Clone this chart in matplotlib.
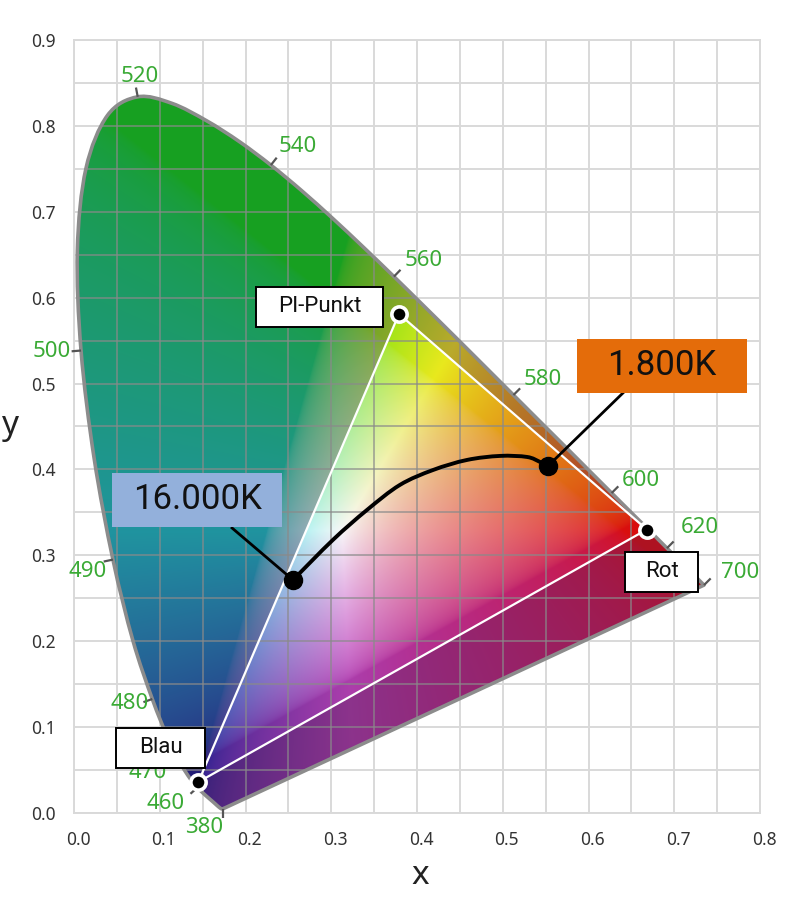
import numpy as np
import matplotlib.pyplot as plt
from matplotlib.patches import PathPatch, Rectangle
from matplotlib.path import Path
from matplotlib.transforms import ScaledTranslation

# CIE 1931 spectral locus (wavelength nm, x, y)
wl = [380, 385, 390, 395, 400, 405, 410, 415, 420, 425, 430, 435, 440, 445,
      450, 455, 460, 465, 470, 475, 480, 485, 490, 495, 500, 505, 510, 515,
      520, 525, 530, 535, 540, 545, 550, 555, 560, 565, 570, 575, 580, 585,
      590, 595, 600, 605, 610, 615, 620, 625, 630, 635, 640, 645, 650, 655,
      660, 665, 670, 680, 690, 700]
loc_x = [0.1741, 0.1740, 0.1738, 0.1736, 0.1733, 0.1730, 0.1726, 0.1721,
         0.1714, 0.1703, 0.1689, 0.1669, 0.1644, 0.1611, 0.1566, 0.1510,
         0.1440, 0.1355, 0.1241, 0.1096, 0.0913, 0.0687, 0.0454, 0.0235,
         0.0082, 0.0039, 0.0139, 0.0389, 0.0743, 0.1142, 0.1547, 0.1929,
         0.2296, 0.2658, 0.3016, 0.3373, 0.3731, 0.4087, 0.4441, 0.4788,
         0.5125, 0.5448, 0.5752, 0.6029, 0.6270, 0.6482, 0.6658, 0.6801,
         0.6915, 0.7006, 0.7079, 0.7140, 0.7190, 0.7230, 0.7260, 0.7283,
         0.7300, 0.7311, 0.7320, 0.7334, 0.7344, 0.7347]
loc_y = [0.0050, 0.0050, 0.0049, 0.0049, 0.0048, 0.0048, 0.0048, 0.0048,
         0.0051, 0.0058, 0.0069, 0.0086, 0.0109, 0.0138, 0.0177, 0.0227,
         0.0297, 0.0399, 0.0578, 0.0868, 0.1327, 0.2007, 0.2950, 0.4127,
         0.5384, 0.6548, 0.7502, 0.8120, 0.8338, 0.8262, 0.8059, 0.7816,
         0.7543, 0.7243, 0.6923, 0.6589, 0.6245, 0.5896, 0.5547, 0.5202,
         0.4866, 0.4544, 0.4242, 0.3965, 0.3725, 0.3514, 0.3340, 0.3197,
         0.3083, 0.2993, 0.2920, 0.2859, 0.2809, 0.2770, 0.2740, 0.2717,
         0.2700, 0.2689, 0.2680, 0.2666, 0.2656, 0.2653]

marked_wl = [380, 460, 470, 480, 490, 500, 520, 540, 560, 580, 600, 620, 700]

# gamut triangle corners
prim_names = ['Blau', 'PI-Punkt', 'Rot']
prim_x = [0.145, 0.379, 0.668]
prim_y = [0.036, 0.581, 0.330]

# black body curve as drawn in the chart
planck_x = [0.2554, 0.302, 0.3417, 0.380, 0.4187, 0.4583, 0.4968, 0.5283, 0.5434, 0.5528]
planck_y = [0.2713, 0.318, 0.3528, 0.3819, 0.3993, 0.4110, 0.4157, 0.4145, 0.4087, 0.4040]
cct_labels = ['16.000K', '1.800K']

ticks_x = [0.0, 0.1, 0.2, 0.3, 0.4, 0.5, 0.6, 0.7, 0.8]
ticks_y = [0.0, 0.1, 0.2, 0.3, 0.4, 0.5, 0.6, 0.7, 0.8, 0.9]

GREEN = '#3aaa35'
FONT = ['Noto Sans', 'DejaVu Sans']
THIN = ['Roboto', 'DejaVu Sans']


def smooth_path(xs, ys, close=False):
    # catmull-rom through the points, drawn as bezier pieces
    p = np.column_stack([xs, ys])
    n = len(p)
    verts = [p[0]]
    codes = [Path.MOVETO]
    for i in range(n - 1):
        a = p[max(i - 1, 0)]
        b = p[min(i + 2, n - 1)]
        c1 = p[i] + (p[i + 1] - a) / 6
        c2 = p[i + 1] - (b - p[i]) / 6
        verts += [c1, c2, p[i + 1]]
        codes += [Path.CURVE4] * 3
    if close:
        verts.append(p[0])
        codes.append(Path.CLOSEPOLY)
    return Path(np.array(verts), codes)


fig = plt.figure(figsize=(8, 8.98), dpi=100)
ax = fig.add_axes([0.0925, 0.0947, 0.8575, 0.8608])
ax.set_xlim(0, 0.8)
ax.set_ylim(0, 0.9)

# background grid
ax.set_xticks(ticks_x)
ax.set_yticks(ticks_y)
ax.set_xticks(np.arange(0.05, 0.8, 0.1), minor=True)
ax.set_yticks(np.arange(0.05, 0.9, 0.1), minor=True)
ax.grid(which='both', color='#d9d9d9', lw=1.4, zorder=0)
ax.set_axisbelow(True)
ax.tick_params(which='both', length=0, pad=13, labelsize=12.5, labelcolor='#333333')
ax.set_xticklabels([f'{v:.1f}' for v in ticks_x], family=FONT)
ax.set_yticklabels([f'{v:.1f}' for v in ticks_y], family=FONT)
for lab in ax.get_xticklabels():
    lab.set_transform(lab.get_transform() + ScaledTranslation(0.04, 0, fig.dpi_scale_trans))
for sp in ax.spines.values():
    sp.set_color('#d9d9d9')
    sp.set_linewidth(1.4)

# colour fill of the horseshoe
gx = np.linspace(0, 0.8, 640)
gy = np.linspace(0, 0.9, 720)
GX, GY = np.meshgrid(gx, gy)
yy = np.maximum(GY, 1e-3)
XYZ = np.stack([GX / yy, np.ones_like(GX), (1 - GX - GY) / yy], axis=-1)
M = np.array([[3.2406, -1.5372, -0.4986],
              [-0.9689, 1.8758, 0.0415],
              [0.0557, -0.2040, 1.0570]])
rgb = np.clip(XYZ @ M.T, 0, None)
rgb /= np.maximum(rgb.max(axis=-1, keepdims=True), 1e-6)
rgb = np.where(rgb <= 0.0031308, 12.92 * rgb, 1.055 * rgb ** (1 / 2.4) - 0.055)
# bluish / violet tones are shown more muted and darker
bl = np.clip(rgb[..., 2:3] - rgb[..., 1:2], 0, 1)
sat = 0.82 - 0.28 * bl
lum = rgb.mean(axis=-1, keepdims=True)
rgb = (lum + sat * (rgb - lum)) * (1 - 0.18 * bl)
cy = np.clip(np.minimum(rgb[..., 1:2], rgb[..., 2:3]) - rgb[..., 0:1], 0, 1)
tri = Path(np.column_stack([prim_x, prim_y]))
inside = tri.contains_points(np.column_stack([GX.ravel(), GY.ravel()])).reshape(GX.shape)
rgb[inside] = rgb[inside] * 0.97
outer = rgb * (1 - 0.17 * cy)
outer = outer * np.array([0.72, 0.68, 0.66]) + np.array([0.05, 0.03, 0.09])
rgb[~inside] = outer[~inside]
rgb = np.clip(rgb, 0, 1)

locus = PathPatch(smooth_path(loc_x, loc_y, close=True), fc='none',
                  ec='#8c8c8c', lw=2.6, zorder=3, joinstyle='round')
ax.add_patch(locus)
im = ax.imshow(rgb, extent=[0, 0.8, 0, 0.9], origin='lower', aspect='auto',
               interpolation='bilinear', zorder=1)
im.set_clip_path(locus)

# grid lines over the colours
gl1 = ax.vlines(np.arange(0, 0.81, 0.05), 0, 0.9, color='#8a8a8a', alpha=0.65, lw=1.4, zorder=2)
gl2 = ax.hlines(np.arange(0, 0.91, 0.05), 0, 0.8, color='#8a8a8a', alpha=0.65, lw=1.4, zorder=2)
gl1.set_clip_path(locus)
gl2.set_clip_path(locus)

# wavelength marks
label_pos = {380: (0.1516, -0.0175), 460: (0.1073, 0.0105), 470: (0.0863, 0.0466),
             480: (0.0653, 0.1270), 490: (0.0163, 0.2806), 500: (-0.0257, 0.5367),
             520: (0.0770, 0.8570), 540: (0.2612, 0.7754), 560: (0.4082, 0.6438),
             580: (0.5470, 0.5052), 600: (0.6612, 0.3865), 620: (0.7300, 0.3318),
             700: (0.7767, 0.2795)}
pts = np.column_stack([loc_x, loc_y])
center = np.array([0.33, 0.33])
for w in marked_wl:
    i = wl.index(w)
    a = pts[max(i - 1, 0)]
    b = pts[min(i + 1, len(wl) - 1)]
    t = b - a
    n = np.array([t[1], -t[0]])
    n /= np.linalg.norm(n)
    if np.dot(n, pts[i] - center) < 0:
        n = -n
    p0 = pts[i]
    p1 = p0 + n * 0.011
    ax.plot([p0[0], p1[0]], [p0[1], p1[1]], color='#555555', lw=1.6, zorder=3,
            clip_on=False, solid_capstyle='butt')
    lx, ly = label_pos[w]
    ax.text(lx, ly, str(w), color=GREEN, fontsize=16, family=FONT,
            ha='center', va='center', zorder=4, clip_on=False)

# gamut triangle
ax.plot(prim_x + prim_x[:1], prim_y + prim_y[:1], color='white', lw=1.6, zorder=5)
ax.plot(prim_x, prim_y, 'o', ms=11, mfc='black', mec='white', mew=2.6, zorder=7)

# black body curve
ax.add_patch(PathPatch(smooth_path(planck_x, planck_y), fc='none', ec='black',
                       lw=2.8, zorder=6, capstyle='round'))
ax.plot([planck_x[0], planck_x[-1]], [planck_y[0], planck_y[-1]], 'o', ms=13,
        color='black', zorder=7)

# label boxes (x0, x1, y0, y1)
box_rect = {'Blau': (0.0490, 0.1528, 0.0524, 0.0990),
            'PI-Punkt': (0.2122, 0.3603, 0.5658, 0.6124),
            'Rot': (0.6426, 0.7277, 0.2573, 0.3039)}
for name in prim_names:
    x0, x1, y0, y1 = box_rect[name]
    ax.add_patch(Rectangle((x0, y0), x1 - x0, y1 - y0, fc='white', ec='black',
                           lw=1.4, zorder=9))
    ax.text((x0 + x1) / 2, (y0 + y1) / 2, name, fontsize=16, family=THIN,
            ha='center', va='center', color='#111111', zorder=10)

cct_rect = [((0.0443, 0.2426, 0.3330, 0.3959), '#93b0db', (0.1843, 0.3318)),
            ((0.5866, 0.7848, 0.4890, 0.5519), '#e46c0a', (0.6402, 0.4890))]
for k, ((x0, x1, y0, y1), fc, anchor) in enumerate(cct_rect):
    j = 0 if k == 0 else -1
    ax.plot([anchor[0], planck_x[j]], [anchor[1], planck_y[j]], color='black',
            lw=2.0, zorder=8)
    ax.add_patch(Rectangle((x0, y0), x1 - x0, y1 - y0, fc=fc, ec='none', zorder=9))
    ax.text((x0 + x1) / 2, (y0 + y1) / 2, cct_labels[k], fontsize=25, family=THIN,
            ha='center', va='center', color='#111111', zorder=10)

fig.text(420 / 800, 1 - 875 / 898, 'x', fontsize=24, family=FONT, ha='center',
         va='center', color='#222222')
fig.text(10 / 800, 1 - 425 / 898, 'y', fontsize=24, family=FONT, ha='center',
         va='center', color='#222222')

fig.savefig('out.png', dpi=100)
